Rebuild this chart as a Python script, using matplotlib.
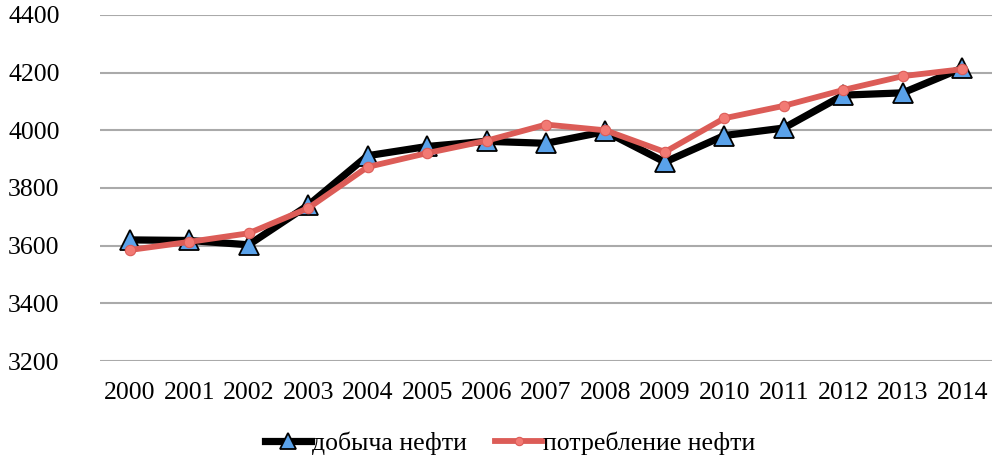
import matplotlib.pyplot as plt

years = ["2000", "2001", "2002", "2003", "2004", "2005", "2006", "2007",
         "2008", "2009", "2010", "2011", "2012", "2013", "2014"]
production = [3620, 3618, 3603, 3740, 3912, 3944, 3962, 3955,
              3996, 3890, 3982, 4008, 4122, 4130, 4216]
consumption = [3585, 3613, 3643, 3730, 3873, 3921, 3964, 4020,
               4000, 3925, 4042, 4085, 4140, 4188, 4212]

plt.rcParams['font.family'] = ['Liberation Serif', 'DejaVu Serif']

fig = plt.figure(figsize=(9.92, 4.63), dpi=100)
ax = fig.add_axes([100 / 992, 102 / 463, 892 / 992, 346 / 463])

x = range(len(years))
ax.plot(x, production, color="black", linewidth=5.2, marker="^",
        markersize=14, markerfacecolor="#5aa2ea", markeredgecolor="black",
        markeredgewidth=1.3, label="добыча нефти", zorder=3)
ax.plot(x, consumption, color="#dc5c57", linewidth=4.2, marker="o",
        markersize=7.5, markerfacecolor="#f27a74", markeredgecolor="#dc5c57",
        markeredgewidth=0.8, label="потребление нефти", zorder=4)

ax.set_xlim(-0.5, len(years) - 0.5)
ax.set_ylim(3200, 4400)
ax.set_yticks(range(3200, 4401, 200))
ax.set_xticks(list(x))
ax.set_xticklabels(years)
ax.tick_params(axis="both", length=0, labelsize=18.5)
ax.tick_params(axis="x", pad=15)
ax.tick_params(axis="y", pad=29)
ax.grid(axis="y", color="#aaaaaa", linewidth=1.5)
ax.set_axisbelow(True)
for s in ax.spines.values():
    s.set_visible(False)

fig.legend(loc="center", bbox_to_anchor=(510 / 992, 1 - 443 / 463), ncol=2,
           frameon=False, fontsize=18.5, handlelength=1.8, handletextpad=0.05,
           columnspacing=1.1, markerscale=0.8)

fig.savefig("out.png", dpi=100)
